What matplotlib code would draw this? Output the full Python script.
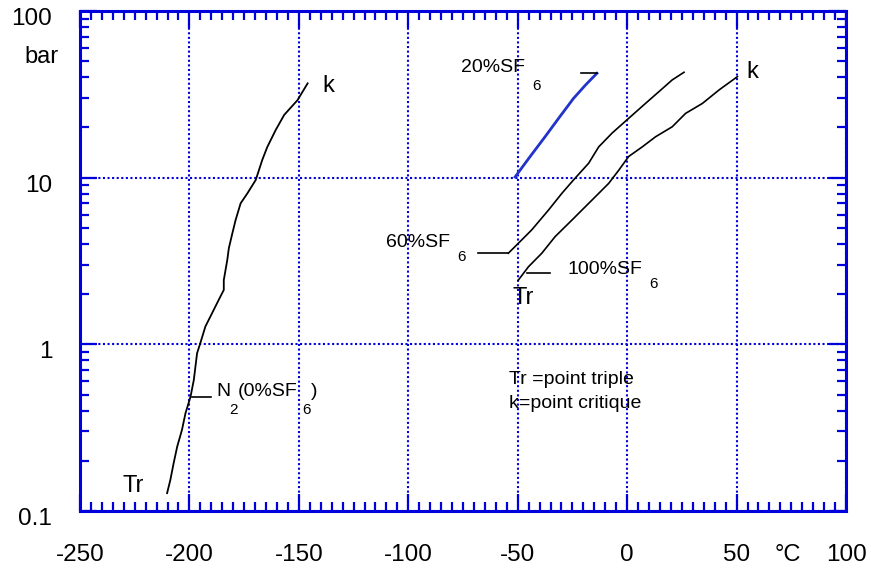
import matplotlib
matplotlib.use('Agg')
import matplotlib.pyplot as plt
from matplotlib.ticker import FixedLocator, MultipleLocator, LogLocator, NullFormatter
from matplotlib.transforms import ScaledTranslation

plt.rcParams['font.family'] = ['Liberation Sans', 'DejaVu Sans']

# saturation curves, temperature in degC, pressure in bar
n2_t = [-210.2, -208.7, -207.2, -205.6, -203.4, -201.8, -199.5, -198.0, -196.5, -195.0,
        -192.7, -190.4, -186.6, -184.3, -184.3, -182.7, -182.0, -180.4, -178.9, -176.6,
        -173.5, -169.7, -166.7, -164.4, -160.6, -156.7, -150.6, -146.0]
n2_p = [0.128, 0.154, 0.194, 0.243, 0.307, 0.386, 0.485, 0.611, 0.885, 1.02,
        1.28, 1.47, 1.85, 2.12, 2.43, 3.21, 3.77, 4.63, 5.57, 7.02,
        8.06, 9.69, 12.8, 15.3, 19.3, 23.8, 29.2, 36.8]

sf6_20_t = [-51.2, -44.5, -37.5, -31.0, -24.5, -19.0, -13.8]
sf6_20_p = [10.1, 13.3, 17.6, 23.0, 29.9, 36.0, 42.3]

sf6_60_t = [-54.3, -49.7, -43.6, -35.9, -29.8, -24.5, -17.6, -13.0, -6.9, 0.7, 8.4, 14.5, 20.6, 26.0]
sf6_60_p = [3.52, 4.04, 4.86, 6.40, 8.06, 9.69, 12.2, 15.3, 18.5, 22.7, 27.9, 32.8, 38.6, 42.9]

sf6_100_t = [-49.7, -45.1, -39.0, -32.9, -25.2, -20.6, -14.5, -8.4, -3.8, 0.7,
             6.9, 13.0, 20.6, 26.7, 34.4, 42.0, 50.4]
sf6_100_p = [2.43, 2.92, 3.52, 4.43, 5.57, 6.40, 7.69, 9.25, 11.1, 13.4,
             15.3, 17.6, 20.2, 24.3, 27.9, 33.6, 40.4]

# label leader lines (temperature span, pressure)
lead_20 = ([-21.2, -13.8], [42.3, 42.3])
lead_60 = ([-68.1, -54.3], [3.52, 3.52])
lead_100 = ([-45.9, -35.3], [2.67, 2.67])
lead_n2 = ([-198.6, -190.0], [0.485, 0.485])

x_ticks = [-250, -200, -150, -100, -50, 0, 50, 100]
y_ticks = [0.1, 1, 10, 100]
y_labels = ['0.1', '1', '10', '100']

W, H = 871, 573
blue = '#0000dd'

fig = plt.figure(figsize=(W / 100, H / 100), dpi=100)
ax = fig.add_axes([80 / W, 1 - 511 / H, (846 - 80) / W, (511 - 11) / H])

ax.plot(n2_t, n2_p, color='black', lw=1.3)
ax.plot(sf6_20_t, sf6_20_p, color='#2233cc', lw=2.0)
ax.plot(sf6_60_t, sf6_60_p, color='black', lw=1.2)
ax.plot(sf6_100_t, sf6_100_p, color='black', lw=1.2)
for lx, ly in [lead_20, lead_60, lead_100, lead_n2]:
    ax.plot(lx, ly, color='black', lw=1.2)

ax.set_yscale('log')
ax.set_xlim(-250, 100)
ax.set_ylim(0.1, 100)

ax.xaxis.set_major_locator(FixedLocator(x_ticks))
ax.xaxis.set_minor_locator(MultipleLocator(5))
ax.set_xticklabels([str(t) for t in x_ticks])
ax.yaxis.set_major_locator(FixedLocator(y_ticks))
ax.yaxis.set_minor_locator(LogLocator(base=10, subs=range(2, 10)))
ax.yaxis.set_minor_formatter(NullFormatter())
ax.set_yticklabels(y_labels)

ax.tick_params(which='both', direction='in', top=True, right=True, color=blue, width=1.6)
ax.tick_params(which='major', length=12, labelsize=17.5)
ax.tick_params(which='minor', length=6.5)
ax.tick_params(axis='x', pad=24)
ax.tick_params(axis='y', pad=20)
for lab in ax.get_yticklabels():
    lab.set_transform(lab.get_transform() + ScaledTranslation(0, -4 / 72, fig.dpi_scale_trans))

for sp in ax.spines.values():
    sp.set_color(blue)
    sp.set_linewidth(2.2)

ax.grid(True, which='major', color=blue, linestyle=(0, (1, 1.2)), lw=1.5)


def ftext(px, py, s, size=14, **kw):
    fig.text(px / W, 1 - py / H, s, fontsize=size, va='center', **kw)


ftext(24, 57, 'bar', 17)
ftext(775, 555, '°C', 17)

ftext(322, 86, 'k', 17)
ftext(746, 72, 'k', 17)
ftext(122, 486, 'Tr', 17)
ftext(512, 298, 'Tr', 17)

ftext(461, 68, '20%SF')
ftext(532, 86, '6', 11)
ftext(386, 243, '60%SF')
ftext(457, 257, '6', 11)
ftext(567, 270, '100%SF')
ftext(649, 284, '6', 11)
ftext(216, 392, 'N')
ftext(229, 410, '2', 11)
ftext(238, 392, '(0%SF')
ftext(302, 410, '6', 11)
ftext(311, 392, ')')

ftext(509, 380, 'Tr =point triple')
ftext(509, 404, 'k=point critique')

fig.savefig('out.png', dpi=100)
